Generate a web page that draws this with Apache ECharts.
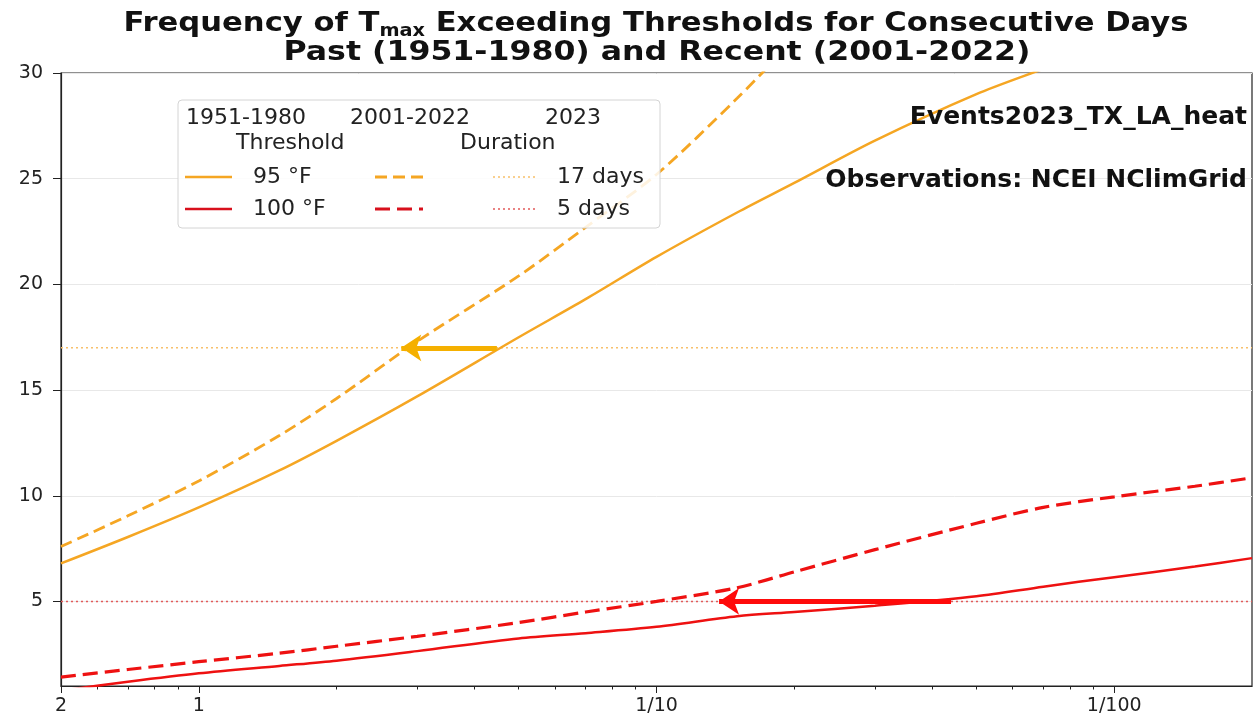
<!DOCTYPE html>
<html>
<head>
<meta charset="utf-8">
<script src="https://cdn.jsdelivr.net/npm/echarts@6/dist/echarts.min.js"></script>
<style>
html,body{margin:0;padding:0;background:#fff}
#main{width:1253px;height:721px}
</style>
</head>
<body>
<div id="main"></div>
<script>
// x = return period in years (shown as frequency 1/T), y = consecutive days
var periods   = [0.5, 0.7, 1, 1.5, 2, 3, 5, 7, 10, 15, 20, 30, 50, 70, 100, 150, 200];
var past95    = [6.8, 8.05, 9.45, 11.2, 12.6, 14.7, 17.5, 19.3, 21.3, 23.4, 24.8, 26.8, 29.0, 30.2, 31.5];
var recent95  = [7.6, 9.05, 10.7, 12.85, 14.6, 17.3, 20.4, 22.7, 25.2, 28.8, 31.6];
var past100   = [0.78, 1.2, 1.6, 1.95, 2.2, 2.65, 3.25, 3.5, 3.8, 4.3, 4.5, 4.8, 5.25, 5.7, 6.15, 6.65, 7.05];
var recent100 = [1.42, 1.78, 2.15, 2.55, 2.88, 3.35, 4.0, 4.5, 5.0, 5.65, 6.4, 7.45, 8.7, 9.45, 9.95, 10.45, 10.85];
var days2023  = [17, 5];
// arrows: from 1951-1980 return period to 2001-2022 return period at the 2023 duration
var arrow95   = [4.48, 2.77];
var arrow100  = [44, 13.7];
var xMajor = [0.5, 1, 10, 100];
var yTicks = [5, 10, 15, 20, 25, 30];

var ORANGE = '#f5a623';
var RED = '#ee1111';
var FONT = "'DejaVu Sans', sans-serif";

var xMinor = [];
[0.1, 1, 10].forEach(function (d) {
  for (var k = 2; k <= 9; k++) {
    var v = +(d * k).toFixed(3);
    if (v > 0.5 && v < 200) xMinor.push(v);
  }
});

function pairs(vals) {
  return vals.map(function (v, i) { return [periods[i], v]; });
}

function freqLabel(t) {
  if (t < 1) return String(Math.round(1 / t));
  if (t === 1) return '1';
  return '1/' + Math.round(t);
}

var chart = echarts.init(document.getElementById('main'));

function legendText(x, y, s) {
  return { type: 'text', x: x, y: y, z: 100,
    style: { text: s, verticalAlign: 'middle', fontSize: 22, fontFamily: FONT, fill: '#222' } };
}
function legendLine(x1, x2, y, color, w, dash) {
  return { type: 'line', z: 100, shape: { x1: x1, y1: y, x2: x2, y2: y },
    style: { stroke: color, lineWidth: w, lineDash: dash || null } };
}

var option = {
  animation: false,
  backgroundColor: '#fff',
  grid: {
    left: 61, right: 1, top: 73, bottom: 35,
    show: true, borderColor: '#222', borderWidth: 1.2, backgroundColor: 'transparent'
  },
  xAxis: [
    {
      type: 'log', logBase: 10, min: 0.5, max: 200,
      axisLine: { lineStyle: { color: '#222', width: 1.2 } },
      axisTick: { customValues: xMajor, length: 7, lineStyle: { color: '#222' } },
      axisLabel: {
        customValues: xMajor, formatter: freqLabel, fontSize: 19, color: '#222',
        fontFamily: FONT, margin: 11
      },
      splitLine: { show: false },
      minorTick: { show: false }
    },
    {
      type: 'log', logBase: 10, min: 0.5, max: 200, position: 'bottom',
      axisLine: { show: false },
      axisTick: { customValues: xMinor, length: 3.5, lineStyle: { color: '#222' } },
      axisLabel: { show: false },
      splitLine: { show: false }
    }
  ],
  yAxis: {
    type: 'value', min: 1, max: 30,
    axisLine: { show: true, lineStyle: { color: '#222', width: 1.2 } },
    axisTick: { show: true, customValues: yTicks, length: 8, lineStyle: { color: '#222' } },
    axisLabel: { customValues: yTicks, fontSize: 19, color: '#222', fontFamily: FONT, margin: 18 },
    splitLine: { lineStyle: { color: '#e8e8e8', width: 1 } }
  },
  series: [
    {
      name: '17 days', type: 'line', showSymbol: false, silent: true,
      data: [[0.5, days2023[0]], [200, days2023[0]]],
      lineStyle: { color: '#f8c06a', width: 1.5, type: [2, 3] },
      markLine: {
        silent: true, symbol: ['none', 'arrow'], symbolSize: 20,
        label: { show: false },
        lineStyle: { color: '#f5b000', width: 5, type: 'solid' },
        data: [[{ coord: [arrow95[0], days2023[0]] }, { coord: [arrow95[1], days2023[0]] }]],
        z: 10
      }
    },
    {
      name: '5 days', type: 'line', showSymbol: false, silent: true,
      data: [[0.5, days2023[1]], [200, days2023[1]]],
      lineStyle: { color: '#e25a5a', width: 1.5, type: [2, 3] },
      markLine: {
        silent: true, symbol: ['none', 'arrow'], symbolSize: 20,
        label: { show: false },
        lineStyle: { color: '#ff0a0a', width: 5, type: 'solid' },
        data: [[{ coord: [arrow100[0], days2023[1]] }, { coord: [arrow100[1], days2023[1]] }]],
        z: 10
      }
    },
    {
      name: '95F 1951-1980', type: 'line', showSymbol: false, smooth: 0.3,
      data: pairs(past95),
      lineStyle: { color: ORANGE, width: 2.5 }
    },
    {
      name: '95F 2001-2022', type: 'line', showSymbol: false, smooth: 0.3,
      data: pairs(recent95),
      lineStyle: { color: ORANGE, width: 2.8, type: [12, 6] }
    },
    {
      name: '100F 1951-1980', type: 'line', showSymbol: false, smooth: 0.3,
      data: pairs(past100),
      lineStyle: { color: RED, width: 2.5 }
    },
    {
      name: '100F 2001-2022', type: 'line', showSymbol: false, smooth: 0.3,
      data: pairs(recent100),
      lineStyle: { color: RED, width: 3.2, type: [15, 7] }
    }
  ],
  graphic: [
    {
      type: 'text', x: 656, y: 24, scaleX: 1.135, z: 100,
      style: {
        text: '{b|Frequency of T}{s|max}{b| Exceeding Thresholds for Consecutive Days}',
        align: 'center', verticalAlign: 'middle',
        rich: {
          b: { fontSize: 27, fontWeight: 'bold', fontFamily: FONT, fill: '#111', lineHeight: 30, verticalAlign: 'middle' },
          s: { fontSize: 17, fontWeight: 'bold', fontFamily: FONT, fill: '#111', lineHeight: 17, verticalAlign: 'middle', padding: [15, 0, 0, 0] }
        }
      }
    },
    {
      type: 'text', x: 657, y: 53, scaleX: 1.17, z: 100,
      style: {
        text: 'Past (1951-1980) and Recent (2001-2022)',
        align: 'center', verticalAlign: 'middle',
        fontSize: 27, fontWeight: 'bold', fontFamily: FONT, fill: '#111'
      }
    },
    {
      type: 'text', x: 1247, y: 117, z: 100,
      style: { text: 'Events2023_TX_LA_heat', align: 'right', verticalAlign: 'middle',
        fontSize: 25, fontWeight: 'bold', fontFamily: FONT, fill: '#111' }
    },
    {
      type: 'text', x: 1247, y: 180, z: 100,
      style: { text: 'Observations: NCEI NClimGrid', align: 'right', verticalAlign: 'middle',
        fontSize: 25, fontWeight: 'bold', fontFamily: FONT, fill: '#111' }
    },
    // legend box
    {
      type: 'rect', z: 90, shape: { x: 178, y: 100, width: 482, height: 128, r: 4 },
      style: { fill: 'rgba(255,255,255,0.85)', stroke: '#d4d4d4', lineWidth: 1 }
    },
    legendText(186, 118, '1951-1980'),
    legendText(350, 118, '2001-2022'),
    legendText(545, 118, '2023'),
    legendText(236, 143, 'Threshold'),
    legendText(460, 143, 'Duration'),
    legendLine(185, 232, 177, ORANGE, 2.5),
    legendText(253, 177, '95 °F'),
    legendLine(375, 423, 177, ORANGE, 2.8, [12, 6]),
    legendLine(493, 537, 177, '#f8c06a', 1.5, [2, 3]),
    legendText(557, 177, '17 days'),
    legendLine(185, 232, 209, '#d8101c', 2.5),
    legendText(253, 209, '100 °F'),
    legendLine(375, 423, 209, '#d8101c', 3.2, [15, 7]),
    legendLine(493, 537, 209, '#e25a5a', 1.5, [2, 3]),
    legendText(557, 209, '5 days')
  ]
};

chart.setOption(option);
</script>
</body>
</html>
